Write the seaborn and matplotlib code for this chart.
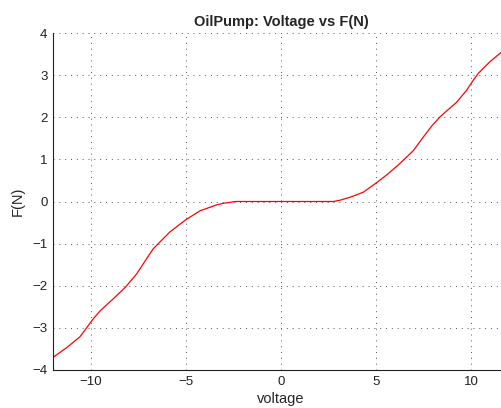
import matplotlib
matplotlib.use('Agg')
import matplotlib.pyplot as plt
import seaborn as sns
import pandas as pd

# Curve points
voltage = [-12.0, -11.28, -10.58, -10.23, -9.96, -9.53, -8.83, -8.2, -7.6,
           -6.9, -6.72, -5.84, -5.0, -4.26, -3.38, -3.0, -2.68, -2.4, 0.0,
           2.75, 3.1, 3.63, 4.33, 5.04, 5.56, 6.18, 6.44, 6.97, 7.49, 7.93,
           8.37, 9.25, 9.77, 10.12, 10.38, 11.0, 11.53, 12.0]
force = [-3.70, -3.47, -3.21, -3.00, -2.83, -2.60, -2.31, -2.04, -1.72,
         -1.24, -1.12, -0.72, -0.43, -0.22, -0.08, -0.04, -0.02, 0.0, 0.0,
         0.0, 0.03, 0.10, 0.22, 0.45, 0.63, 0.87, 0.98, 1.21, 1.53, 1.79,
         2.01, 2.36, 2.64, 2.88, 3.04, 3.32, 3.52, 3.67]

df = pd.DataFrame({'voltage': voltage, 'F(N)': force})

sns.set_style('white')
plt.rcParams['font.family'] = ['Liberation Sans', 'DejaVu Sans']

fig = plt.figure(figsize=(5.01, 4.08), dpi=100)
ax = fig.add_axes([53 / 501, 38 / 408, 456 / 501, 337 / 408])

sns.lineplot(data=df, x='voltage', y='F(N)', color='red', linewidth=0.9,
             ax=ax, solid_joinstyle='round')

ax.set_xlim(-12, 12)
ax.set_ylim(-4, 4)
ax.set_xticks([-10, -5, 0, 5, 10])
ax.set_yticks(range(-4, 5))
ax.set_yticklabels(['\u22124', '\u22123', '\u22122', '\u22121', '0', '1', '2', '3', '4'])
ax.set_xticklabels(['\u221210', '\u22125', '0', '5', '10'])
ax.grid(True, linestyle=(0, (1, 5)), color='#555555', linewidth=0.7)
ax.tick_params(direction='in', labelsize=9.5, length=4, width=0.8, pad=4,
               colors='#222222')
for s in ['top', 'right']:
    ax.spines[s].set_visible(False)
for s in ['left', 'bottom']:
    ax.spines[s].set_linewidth(0.8)
    ax.spines[s].set_color('#222222')

ax.set_xlabel('voltage', fontsize=10.5, labelpad=3)
ax.set_ylabel('F(N)', fontsize=10.5, labelpad=5)
ax.set_title('OilPump: Voltage vs F(N)', fontsize=10.5, fontweight='bold', pad=5)

fig.savefig('out.png', dpi=100)
